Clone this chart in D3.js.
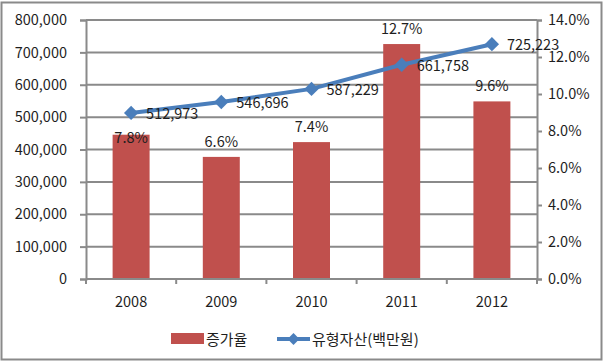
<!DOCTYPE html>
<html><head><meta charset="utf-8">
<script src="https://cdn.jsdelivr.net/npm/d3@7"></script>
<style>body{margin:0;background:#fff}svg{display:block}text{font-family:"Noto Sans CJK KR","Noto Sans",sans-serif;fill:#1e1e1e}</style>
</head><body><svg id="c" width="605" height="363"></svg>
<script>
const years = ["2008","2009","2010","2011","2012"];
const growth = [0.078, 0.066, 0.074, 0.127, 0.096];
const assets = [512973, 546696, 587229, 661758, 725223];
const leftTicks = [0,100000,200000,300000,400000,500000,600000,700000,800000];
const rightTicks = [0,0.02,0.04,0.06,0.08,0.10,0.12,0.14];
const seriesNames = ["증가율","유형자산(백만원)"];

const svg = d3.select("#c");
const L=86,R=537,T=20,B=279;
const grid="#8a8a8a", barC="#C0504D", lineC="#4A7EBB";

svg.append("rect").attr("x",1.5).attr("y",2.5).attr("width",600).attr("height",357)
  .attr("fill","#fff").attr("stroke",grid).attr("stroke-width",2);

const x = d3.scaleBand().domain(years).range([L,R]).paddingInner(0.59).paddingOuter(0.295);
const yL = d3.scaleLinear().domain([0,800000]).range([B,T]);
const yR = d3.scaleLinear().domain([0,0.14]).range([B,T]);

// gridlines
svg.append("g").selectAll("line").data(leftTicks.slice(1)).join("line")
  .attr("x1",L).attr("x2",R).attr("y1",d=>yL(d)).attr("y2",d=>yL(d))
  .attr("stroke",grid).attr("stroke-width",2);

// left axis
const gL = svg.append("g").attr("transform",`translate(${L},0)`)
  .call(d3.axisLeft(yL).tickValues(leftTicks).tickSize(6).tickPadding(13).tickFormat(d3.format(",")));
gL.selectAll("path,line").attr("stroke",grid).attr("stroke-width",2);
gL.selectAll("text").attr("font-size",14.5).attr("fill","#1e1e1e").attr("font-family",null);

// right axis
const gR = svg.append("g").attr("transform",`translate(${R},0)`)
  .call(d3.axisRight(yR).tickValues(rightTicks).tickSize(5).tickPadding(6).tickFormat(d3.format(".1%")));
gR.selectAll("path,line").attr("stroke",grid).attr("stroke-width",2);
gR.selectAll("text").attr("font-size",14.5).attr("fill","#1e1e1e").attr("font-family",null);

// bars
svg.append("g").selectAll("rect").data(years).join("rect")
  .attr("x",d=>x(d)).attr("width",x.bandwidth())
  .attr("y",(d,i)=>yR(growth[i])).attr("height",(d,i)=>B-yR(growth[i]))
  .attr("fill",barC);

// bottom axis
svg.append("line").attr("x1",L).attr("x2",R).attr("y1",B).attr("y2",B).attr("stroke",grid).attr("stroke-width",2);
svg.append("g").selectAll("line").data(d3.range(years.length+1)).join("line")
  .attr("x1",i=>L+i*x.step()).attr("x2",i=>L+i*x.step()).attr("y1",B).attr("y2",B+5)
  .attr("stroke",grid).attr("stroke-width",2);
svg.append("g").selectAll("text").data(years).join("text")
  .attr("x",d=>x(d)+x.bandwidth()/2).attr("y",307).attr("text-anchor","middle")
  .attr("font-size",14.5).text(d=>d);

// line
const cx = d=>x(d)+x.bandwidth()/2;
svg.append("path").datum(years).attr("fill","none").attr("stroke",lineC).attr("stroke-width",4)
  .attr("stroke-linejoin","round")
  .attr("d",d3.line().x(d=>cx(d)).y((d,i)=>yL(assets[i])));
svg.append("g").selectAll("path").data(years).join("path")
  .attr("transform",(d,i)=>`translate(${cx(d)},${yL(assets[i])})`)
  .attr("d",d3.symbol(d3.symbolDiamond2,130)).attr("fill",lineC);

// line labels
const fmt = d3.format(",");
svg.append("g").selectAll("text").data(years).join("text")
  .attr("x",d=>cx(d)+15).attr("y",(d,i)=>yL(assets[i])+6)
  .attr("font-size",14.5).text((d,i)=>fmt(assets[i]));

// bar labels (pushed down if they collide with a line label)
svg.append("g").selectAll("text").data(years).join("text")
  .attr("x",d=>cx(d)).attr("text-anchor","middle")
  .attr("y",(d,i)=>{
    let y = yR(growth[i])-10;
    const ly = yL(assets[i])+6;
    if (Math.abs(y-ly) < 16) y = ly + 24;
    return y;
  })
  .attr("font-size",14.5).text((d,i)=>d3.format(".1%")(growth[i]));

// legend
const lg = svg.append("g");
lg.append("rect").attr("x",171).attr("y",333).attr("width",33).attr("height",11).attr("fill",barC);
lg.append("text").attr("x",206).attr("y",344.5).attr("font-size",15).text(seriesNames[0]);
lg.append("line").attr("x1",277).attr("x2",310).attr("y1",339).attr("y2",339).attr("stroke",lineC).attr("stroke-width",4);
lg.append("path").attr("transform","translate(293.5,339)").attr("d",d3.symbol(d3.symbolDiamond2,90)).attr("fill",lineC);
lg.append("text").attr("x",312).attr("y",344.5).attr("font-size",15).text(seriesNames[1]);
</script></body></html>
